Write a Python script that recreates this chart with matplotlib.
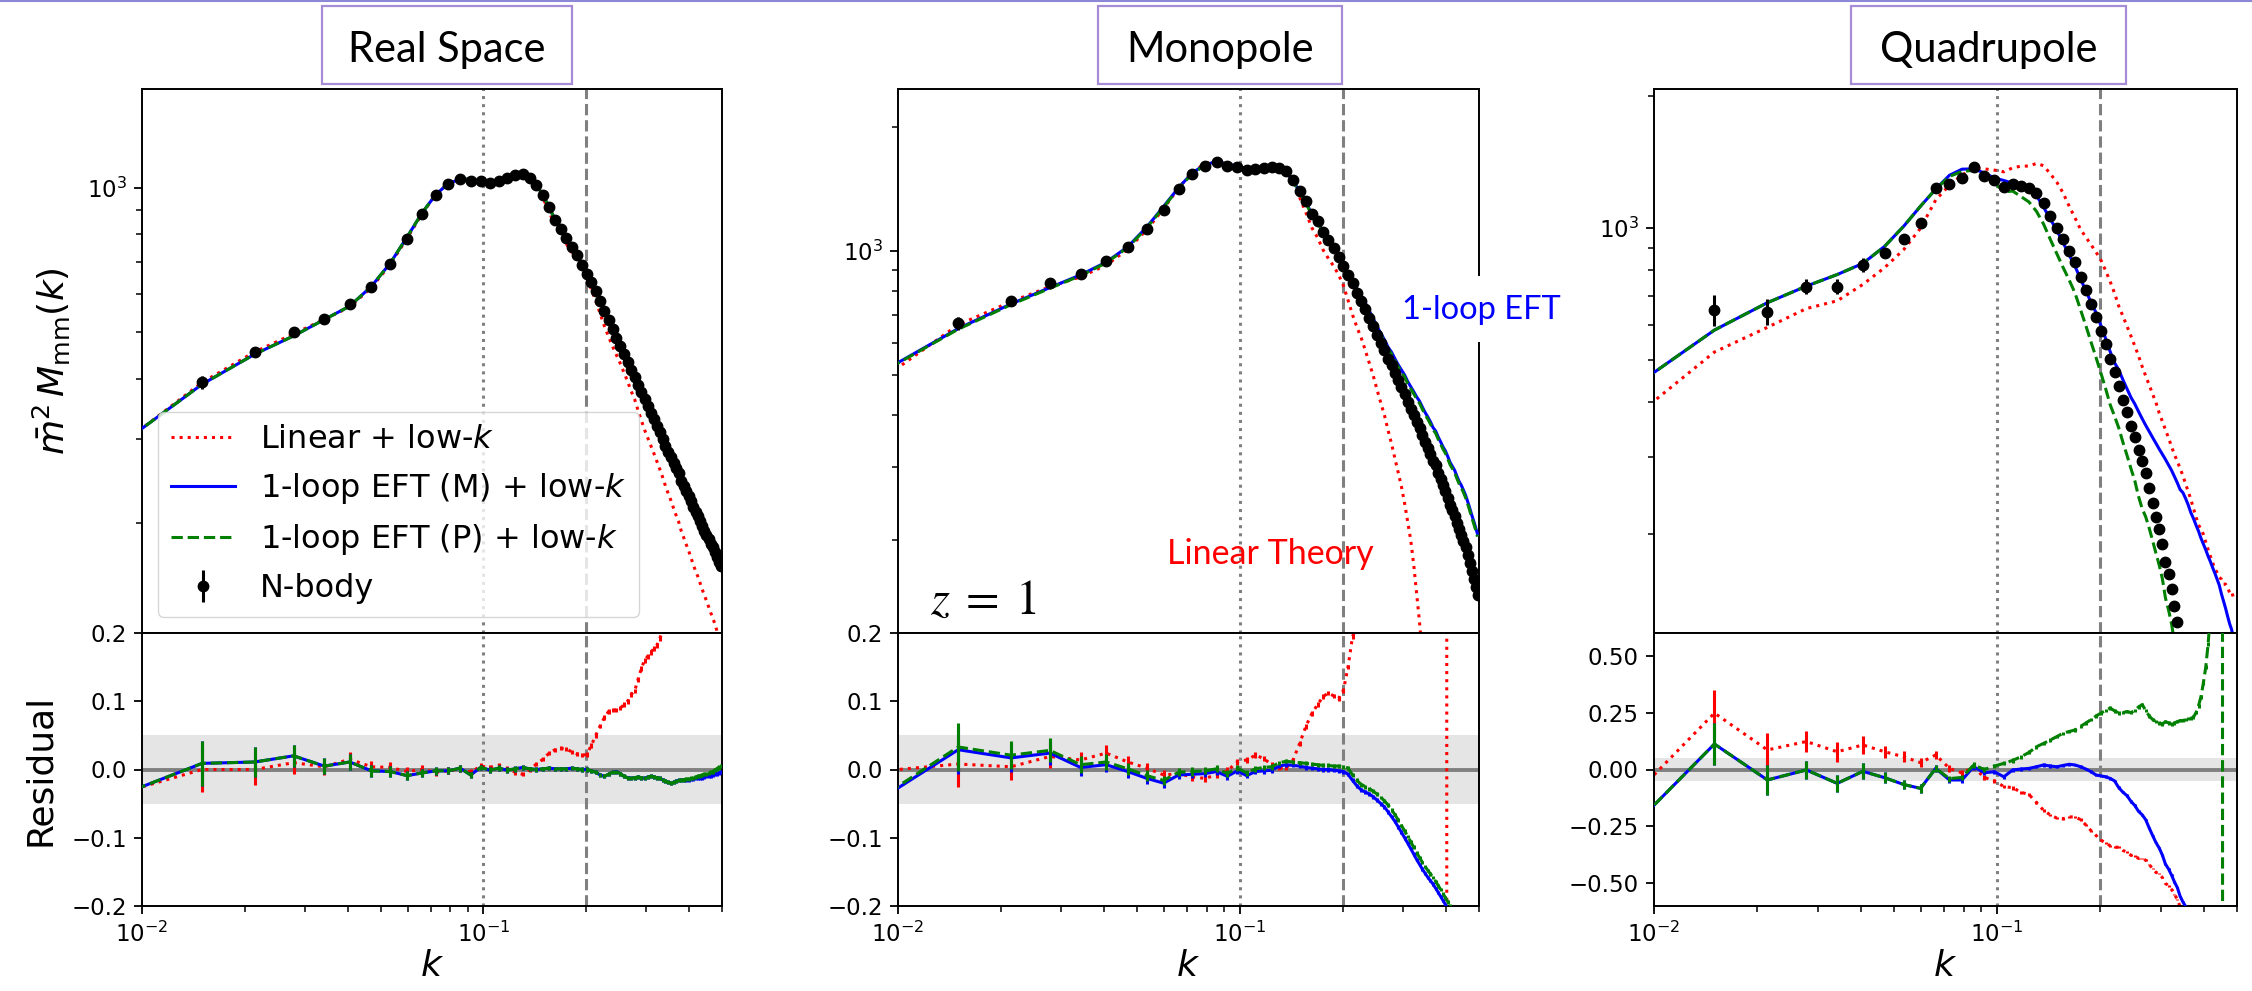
import numpy as np
import matplotlib.pyplot as plt
from matplotlib.patches import Rectangle
from matplotlib.lines import Line2D

# k bins (h/Mpc); the first bin sits just left of the plotted range
k = np.array([
    0.0086, 0.0150, 0.0214, 0.0278, 0.0342, 0.0406, 0.0470, 0.0534, 0.0598, 0.0662,
    0.0726, 0.0790, 0.0854, 0.0918, 0.0982, 0.1046, 0.1110, 0.1174, 0.1238, 0.1302,
    0.1366, 0.1430, 0.1494, 0.1558, 0.1622, 0.1686, 0.1750, 0.1814, 0.1878, 0.1942,
    0.2006, 0.2070, 0.2134, 0.2198, 0.2262, 0.2326, 0.2390, 0.2454, 0.2518, 0.2582,
    0.2646, 0.2710, 0.2774, 0.2838, 0.2902, 0.2966, 0.3030, 0.3094, 0.3158, 0.3222,
    0.3286, 0.3350, 0.3414, 0.3478, 0.3542, 0.3606, 0.3670, 0.3734, 0.3798, 0.3862,
    0.3926, 0.3990, 0.4054, 0.4118, 0.4182, 0.4246, 0.4310, 0.4374, 0.4438, 0.4502,
    0.4566, 0.4630, 0.4694, 0.4758, 0.4822, 0.4886, 0.4950])

# ---- real space ----
nbody_real = np.array([
    280, 393, 455, 501, 534, 573, 622, 695, 783, 883,
    967, 1019, 1044, 1034, 1034, 1024, 1034, 1049, 1064, 1069,
    1049, 1014, 967, 913, 858, 821, 787, 753, 725, 692,
    662, 637, 610, 582, 554, 531, 508, 487, 469, 451,
    434, 418, 404, 389, 376, 363, 351, 340, 329, 318,
    309, 300, 290, 282, 275, 267, 260, 254, 245, 239,
    233, 228, 222, 216, 211, 207, 202, 197, 193, 189,
    185, 181, 178, 174, 170, 166, 163])
res_lin_real = np.array([
    -0.035, 0.000, 0.000, 0.010, 0.004, 0.015, 0.004, 0.003, -0.003, 0.000,
    -0.004, -0.002, 0.001, -0.004, 0.005, 0.003, 0.006, 0.001, -0.004, -0.007,
    0.000, 0.008, 0.015, 0.024, 0.029, 0.031, 0.030, 0.026, 0.023, 0.021,
    0.022, 0.035, 0.050, 0.064, 0.076, 0.085, 0.087, 0.087, 0.090, 0.095,
    0.100, 0.110, 0.115, 0.132, 0.148, 0.160, 0.166, 0.172, 0.177, 0.182,
    0.192, 0.203, 0.213, 0.223, 0.233, 0.243, 0.253, 0.263, 0.272, 0.281,
    0.290, 0.300, 0.309, 0.318, 0.327, 0.336, 0.345, 0.354, 0.363, 0.372,
    0.381, 0.390, 0.399, 0.408, 0.418, 0.428, 0.438])
res_m_real = np.array([
    -0.038, 0.009, 0.011, 0.020, 0.005, 0.011, -0.002, -0.003, -0.009, -0.005,
    -0.002, -0.002, 0.002, -0.008, 0.003, -0.001, 0.002, -0.001, 0.001, 0.003,
    0.001, 0.000, 0.001, 0.002, 0.001, 0.001, 0.001, 0.002, 0.001, 0.000,
    0.000, -0.002, -0.004, -0.008, -0.010, -0.007, -0.004, -0.003, -0.006, -0.010,
    -0.012, -0.013, -0.012, -0.011, -0.012, -0.013, -0.011, -0.010, -0.011, -0.012,
    -0.013, -0.015, -0.017, -0.019, -0.020, -0.019, -0.017, -0.016, -0.016, -0.015,
    -0.015, -0.015, -0.014, -0.014, -0.013, -0.013, -0.012, -0.012, -0.011, -0.010,
    -0.010, -0.009, -0.008, -0.007, -0.006, -0.005, -0.004])
res_p_real = np.array([
    -0.038, 0.009, 0.011, 0.020, 0.005, 0.011, -0.002, -0.003, -0.009, -0.005,
    -0.002, -0.002, 0.002, -0.008, 0.003, -0.001, 0.002, -0.001, 0.001, 0.003,
    0.001, 0.000, 0.001, 0.002, 0.001, 0.001, 0.001, 0.002, 0.001, 0.000,
    0.000, -0.002, -0.004, -0.008, -0.010, -0.007, -0.004, -0.003, -0.006, -0.010,
    -0.012, -0.013, -0.012, -0.011, -0.012, -0.013, -0.011, -0.010, -0.011, -0.012,
    -0.013, -0.015, -0.017, -0.019, -0.020, -0.019, -0.017, -0.016, -0.016, -0.015,
    -0.014, -0.014, -0.013, -0.012, -0.011, -0.010, -0.009, -0.008, -0.007, -0.006,
    -0.005, -0.004, -0.003, -0.001, 0.001, 0.003, 0.005])
err_real = np.array([
    0.050, 0.033, 0.022, 0.016, 0.012, 0.011, 0.009, 0.008, 0.007, 0.006,
    0.006, 0.005, 0.005, 0.005, 0.004, 0.004, 0.004, 0.004, 0.004, 0.003,
    0.003, 0.003, 0.003, 0.003, 0.003, 0.003, 0.003, 0.003, 0.003, 0.003,
    0.003, 0.003, 0.003, 0.003, 0.003, 0.003, 0.003, 0.003, 0.003, 0.003,
    0.003, 0.003, 0.003, 0.003, 0.003, 0.003, 0.003, 0.003, 0.003, 0.003,
    0.003, 0.003, 0.003, 0.003, 0.003, 0.003, 0.003, 0.003, 0.003, 0.003,
    0.003, 0.003, 0.003, 0.003, 0.003, 0.003, 0.003, 0.003, 0.003, 0.003,
    0.003, 0.003, 0.003, 0.003, 0.003, 0.003, 0.003])

# ---- monopole ----
nbody_mono = np.array([
    476, 668, 757, 835, 878, 946, 1021, 1128, 1256, 1413,
    1535, 1609, 1640, 1609, 1600, 1571, 1581, 1588, 1593, 1588,
    1562, 1489, 1399, 1318, 1232, 1180, 1114, 1066, 1019, 968,
    921, 874, 837, 791, 758, 724, 690, 658, 627, 600,
    576, 549, 530, 507, 486, 468, 451, 431, 415, 400,
    385, 373, 358, 345, 334, 323, 311, 303, 291, 281,
    271, 263, 253, 243, 236, 229, 220, 212, 206, 199,
    192, 184, 176, 168, 161, 154, 147])
res_lin_mono = np.array([
    -0.003, 0.008, 0.004, 0.019, 0.014, 0.024, 0.011, 0.002, -0.008, -0.006,
    -0.011, -0.013, -0.008, -0.002, 0.011, 0.014, 0.021, 0.016, 0.007, 0.002,
    0.002, 0.014, 0.038, 0.063, 0.082, 0.095, 0.107, 0.112, 0.108, 0.104,
    0.116, 0.150, 0.195, 0.21, 0.23, 0.26, 0.29, 0.32, 0.36, 0.40,
    0.44, 0.49, 0.55, 0.61, 0.67, 0.74, 0.84, 0.95, 1.08, 1.30,
    1.60, 1.95, 2.4, 3.0, 3.8, 4.8, 6.2, 8.0, 11.0, 16.0,
    28.0, 70.0, -60.0, -25.0, -14.0, -9.0, -6.5, -5.0, -4.0, -3.4,
    -3.0, -2.7, -2.5, -2.3, -2.15, -2.0, -1.9])
res_m_mono = np.array([
    -0.048, 0.029, 0.017, 0.024, 0.003, 0.007, -0.003, -0.013, -0.020, -0.008,
    -0.007, -0.006, -0.003, -0.010, -0.002, -0.009, -0.003, -0.002, -0.001, 0.005,
    0.007, 0.006, 0.005, 0.003, 0.002, 0.001, 0.000, 0.000, -0.001, -0.002,
    -0.003, -0.007, -0.016, -0.024, -0.030, -0.033, -0.036, -0.040, -0.045, -0.050,
    -0.055, -0.062, -0.069, -0.076, -0.084, -0.092, -0.100, -0.108, -0.116, -0.124,
    -0.132, -0.139, -0.146, -0.152, -0.158, -0.163, -0.168, -0.174, -0.180, -0.186,
    -0.192, -0.198, -0.204, -0.210, -0.216, -0.222, -0.228, -0.234, -0.240, -0.246,
    -0.252, -0.258, -0.264, -0.270, -0.276, -0.282, -0.288])
res_p_mono = np.array([
    -0.046, 0.033, 0.021, 0.028, 0.007, 0.011, 0.001, -0.009, -0.016, -0.004,
    -0.003, -0.002, 0.001, -0.006, 0.002, -0.005, 0.001, 0.003, 0.004, 0.010,
    0.012, 0.011, 0.010, 0.009, 0.008, 0.007, 0.006, 0.006, 0.005, 0.005,
    0.004, 0.002, -0.008, -0.016, -0.022, -0.025, -0.028, -0.032, -0.036, -0.041,
    -0.046, -0.052, -0.059, -0.066, -0.074, -0.082, -0.090, -0.098, -0.106, -0.114,
    -0.122, -0.129, -0.136, -0.142, -0.148, -0.153, -0.158, -0.164, -0.170, -0.176,
    -0.182, -0.188, -0.194, -0.200, -0.206, -0.212, -0.218, -0.224, -0.230, -0.236,
    -0.242, -0.248, -0.254, -0.260, -0.266, -0.272, -0.278])
err_mono = np.array([
    0.050, 0.034, 0.020, 0.017, 0.012, 0.011, 0.009, 0.008, 0.007, 0.006,
    0.006, 0.005, 0.005, 0.005, 0.004, 0.004, 0.004, 0.004, 0.004, 0.003,
    0.003, 0.003, 0.003, 0.003, 0.003, 0.003, 0.003, 0.003, 0.003, 0.003,
    0.003, 0.003, 0.003, 0.003, 0.003, 0.003, 0.003, 0.003, 0.003, 0.003,
    0.003, 0.003, 0.003, 0.003, 0.003, 0.003, 0.003, 0.003, 0.003, 0.003,
    0.003, 0.003, 0.003, 0.003, 0.003, 0.003, 0.003, 0.003, 0.003, 0.003,
    0.003, 0.003, 0.003, 0.003, 0.003, 0.003, 0.003, 0.003, 0.003, 0.003,
    0.003, 0.003, 0.003, 0.003, 0.003, 0.003, 0.003])

# ---- quadrupole ----
nbody_quad = np.array([
    320, 650, 644, 735, 735, 823, 875, 942, 1028, 1232,
    1258, 1299, 1380, 1316, 1287, 1242, 1262, 1245, 1232, 1200,
    1137, 1062, 998, 941, 887, 834, 774, 720, 669, 625,
    582, 542, 502, 468, 436, 405, 380, 353, 334, 311,
    294, 276, 255, 236, 219, 205, 190, 173, 162, 150,
    137, 126, 112, 104, 96, 89, 83, 76, 69, 62,
    56, 49, 42, 36, 31, 26, 22, 18, 15, 12,
    10, 8, 6.5, 5, 4, 3, 2.4])
res_lin_quad = np.array([
    -0.125, 0.248, 0.086, 0.123, 0.078, 0.108, 0.078, 0.056, 0.030, 0.064,
    0.005, -0.015, 0.010, -0.035, -0.050, -0.075, -0.080, -0.100, -0.110, -0.145,
    -0.180, -0.200, -0.214, -0.216, -0.208, -0.209, -0.220, -0.244, -0.269, -0.290,
    -0.311, -0.322, -0.335, -0.341, -0.342, -0.356, -0.363, -0.377, -0.379, -0.391,
    -0.391, -0.399, -0.418, -0.435, -0.452, -0.458, -0.475, -0.500, -0.512, -0.527,
    -0.549, -0.571, -0.603, -0.618, -0.631, -0.644, -0.654, -0.668, -0.685, -0.705,
    -0.727, -0.755, -0.781, -0.805, -0.826, -0.849, -0.868, -0.890, -0.906, -0.924,
    -0.935, -0.948, -0.957, -0.966, -0.973, -0.979, -0.983])
res_m_quad = np.array([
    -0.257, 0.112, -0.046, -0.002, -0.061, -0.008, -0.036, -0.066, -0.083, 0.005,
    -0.046, -0.046, 0.012, -0.014, -0.010, -0.032, -0.002, 0.002, 0.005, 0.012,
    0.020, 0.015, 0.012, 0.018, 0.023, 0.020, 0.012, 0.002, -0.010, -0.024,
    -0.028, -0.032, -0.039, -0.050, -0.080, -0.100, -0.115, -0.140, -0.158, -0.184,
    -0.199, -0.221, -0.257, -0.290, -0.321, -0.345, -0.376, -0.416, -0.437, -0.464,
    -0.494, -0.519, -0.557, -0.582, -0.602, -0.618, -0.629, -0.650, -0.671, -0.695,
    -0.714, -0.742, -0.772, -0.798, -0.821, -0.845, -0.865, -0.886, -0.902, -0.918,
    -0.929, -0.941, -0.950, -0.960, -0.967, -0.974, -0.979])
res_p_quad = np.array([
    -0.257, 0.112, -0.046, -0.002, -0.061, -0.008, -0.036, -0.066, -0.083, 0.005,
    -0.040, -0.035, 0.020, 0.000, 0.015, 0.027, 0.040, 0.056, 0.075, 0.100,
    0.115, 0.130, 0.145, 0.160, 0.167, 0.174, 0.190, 0.204, 0.220, 0.235,
    0.248, 0.260, 0.270, 0.258, 0.248, 0.250, 0.255, 0.250, 0.260, 0.275,
    0.285, 0.260, 0.235, 0.220, 0.210, 0.205, 0.200, 0.210, 0.205, 0.200,
    0.205, 0.210, 0.215, 0.215, 0.220, 0.225, 0.225, 0.230, 0.250, 0.280,
    0.320, 0.380, 0.450, 0.550, 0.680, 0.900, 1.300, 2.200, 5.000, 25.00,
    -20.0, -6.0, -3.5, -2.7, -2.3, -2.1, -1.95])
err_quad = np.array([
    0.120, 0.083, 0.070, 0.040, 0.040, 0.035, 0.025, 0.022, 0.020, 0.016,
    0.014, 0.013, 0.012, 0.011, 0.010, 0.009, 0.009, 0.008, 0.008, 0.007,
    0.007, 0.007, 0.006, 0.006, 0.006, 0.006, 0.006, 0.006, 0.006, 0.006,
    0.006, 0.006, 0.006, 0.006, 0.006, 0.006, 0.006, 0.006, 0.006, 0.006,
    0.006, 0.006, 0.006, 0.006, 0.006, 0.006, 0.006, 0.006, 0.006, 0.006,
    0.006, 0.006, 0.006, 0.006, 0.006, 0.006, 0.006, 0.006, 0.006, 0.006,
    0.006, 0.006, 0.006, 0.006, 0.006, 0.006, 0.006, 0.006, 0.006, 0.006,
    0.006, 0.006, 0.006, 0.006, 0.006, 0.006, 0.006])

titles = ["Real Space", "Monopole", "Quadrupole"]
model_labels = ["Linear + low-$k$", "1-loop EFT (M) + low-$k$", "1-loop EFT (P) + low-$k$"]

plt.rcParams["axes.linewidth"] = 1.4

W, H = 2252, 991
fig = plt.figure(figsize=(W / 100, H / 100), dpi=100)


def axes_px(x0, x1, y0, y1):
    # pixel box measured from the top-left corner of the figure
    return fig.add_axes([x0 / W, 1 - y1 / H, (x1 - x0) / W, (y1 - y0) / H])


def rect_px(x0, x1, y0, y1, **kw):
    fig.add_artist(Rectangle((x0 / W, 1 - y1 / H), (x1 - x0) / W, (y1 - y0) / H,
                             transform=fig.transFigure, **kw))


TOP, MID, BOT = 89, 633, 906
panels = [
    dict(x=(142, 722), box=(322, 572), nb=nbody_real, err=err_real,
         res=(res_lin_real, res_m_real, res_p_real), ylim=(118, 1607),
         rlim=0.2, rticks=[-0.2, -0.1, 0.0, 0.1, 0.2]),
    dict(x=(898, 1479), box=(1098, 1342), nb=nbody_mono, err=err_mono,
         res=(res_lin_mono, res_m_mono, res_p_mono), ylim=(119, 2466),
         rlim=0.2, rticks=[-0.2, -0.1, 0.0, 0.1, 0.2]),
    dict(x=(1654, 2237), box=(1851, 2126), nb=nbody_quad, err=err_quad,
         res=(res_lin_quad, res_m_quad, res_p_quad), ylim=(119, 2075),
         rlim=0.6, rticks=[-0.5, -0.25, 0.0, 0.25, 0.5]),
]
styles = [(":", "r"), ("-", "b"), ("--", "g")]

for n, p in enumerate(panels):
    x0, x1 = p["x"]
    ax = axes_px(x0, x1, TOP, MID)
    axr = axes_px(x0, x1, MID, BOT)
    nb, err = p["nb"], p["err"]

    handles = []
    for z, (r, (ls, c), lab) in enumerate(zip(p["res"], styles, model_labels)):
        # residual is N-body / model - 1
        model = nb / (1 + r)
        h, = ax.plot(k, model, ls=ls, color=c, lw=2.2, label=lab, zorder=2 + z)
        handles.append(h)
        axr.errorbar(k, r, yerr=err * np.abs(1 + r), ls=ls, color=c, lw=2.2,
                     elinewidth=2.2, zorder=2 + z)
    eb = ax.errorbar(k, nb, yerr=err * nb, fmt="o", color="k", ms=7.5,
                     elinewidth=2.2, zorder=6, label="N-body")
    handles.append(eb)

    for a in (ax, axr):
        a.set_xscale("log")
        a.set_xlim(0.01, 0.5)
        a.axvline(0.1, color="gray", ls=":", lw=2.2, zorder=1)
        a.axvline(0.2, color="gray", ls="--", lw=2.2, zorder=1)

    ax.set_yscale("log")
    ax.set_ylim(*p["ylim"])
    ax.yaxis.set_minor_formatter(plt.NullFormatter())
    ax.tick_params(axis="x", which="both", bottom=False, labelbottom=False)
    ax.tick_params(axis="y", which="major", labelsize=16.5, length=6, width=1.3, pad=5)
    ax.tick_params(axis="y", which="minor", length=4, width=1.1)

    axr.axhspan(-0.05, 0.05, color="gray", alpha=0.2, lw=0, zorder=0)
    axr.axhline(0, color="gray", lw=2.8, zorder=1)
    axr.set_ylim(-p["rlim"], p["rlim"])
    axr.set_yticks(p["rticks"])
    axr.tick_params(axis="both", which="major", labelsize=16.5, length=6, width=1.3, pad=5)
    axr.tick_params(axis="x", which="minor", length=4, width=1.1)
    axr.set_xlabel("$k$", fontsize=26, labelpad=2)

    if n == 0:
        ax.set_ylabel(r"$\bar{m}^2\,M_{\rm mm}(k)$", fontsize=26, labelpad=10)
        axr.set_ylabel("Residual", fontsize=26, labelpad=10)
        ax.legend(handles, [h.get_label() for h in handles], loc="lower left",
                  fontsize=23, framealpha=0.8)

    # boxed heading above each panel
    bx0, bx1 = p["box"]
    rect_px(bx0, bx1, 6, 84, fill=False, edgecolor="#a68bd6", lw=1.6)
    fig.text((bx0 + bx1) / 2 / W, 1 - 62 / H, titles[n], ha="center",
             va="baseline", fontsize=30, family="Lato")

# annotations on the monopole panel
fig.text(1167 / W, 1 - 564 / H, "Linear Theory", color="#ff0000",
         fontsize=24.5, family="Lato", va="baseline")
rect_px(1396, 1568, 276, 342, facecolor="white", edgecolor="none", zorder=5)
fig.text(1402 / W, 1 - 319 / H, "1-loop EFT", color="#0000ff",
         fontsize=23.5, family="Lato", va="baseline", zorder=6)
fig.text(930 / W, 1 - 614 / H, r"$z\;=\;1$", fontsize=35, math_fontfamily="stix",
         va="baseline")

fig.add_artist(Line2D([0, 1], [1 - 1 / H, 1 - 1 / H], transform=fig.transFigure,
                      color="#8c88d6", lw=1.5))

fig.savefig("out.png", dpi=100)
